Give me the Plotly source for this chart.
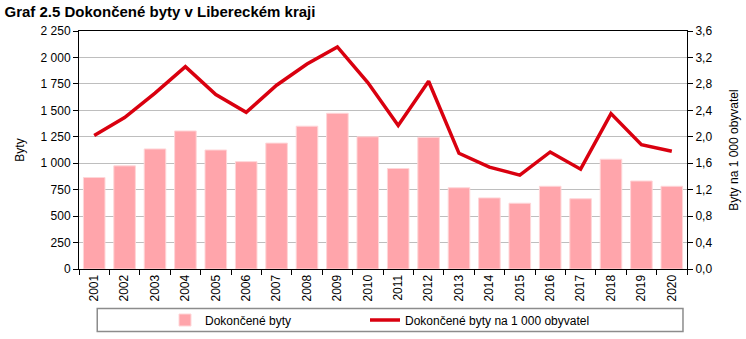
import plotly.graph_objects as go

years = [str(y) for y in range(2001, 2021)]
dokoncene_byty = [865, 975, 1135, 1305, 1125, 1015, 1190, 1350, 1472, 1250,
                  950, 1245, 768, 672, 622, 782, 664, 1038, 832, 782]
byty_na_1000 = [2.02, 2.29, 2.66, 3.06, 2.64, 2.37, 2.78, 3.10, 3.36, 2.82,
                2.17, 2.84, 1.75, 1.54, 1.42, 1.77, 1.51, 2.35, 1.88, 1.78]

left_tickvals = [0, 250, 500, 750, 1000, 1250, 1500, 1750, 2000, 2250]
left_ticktext = ["0", "250", "500", "750", "1 000", "1 250", "1 500", "1 750", "2 000", "2 250"]
right_tickvals = [0, 0.4, 0.8, 1.2, 1.6, 2.0, 2.4, 2.8, 3.2, 3.6]
right_ticktext = ["0,0", "0,4", "0,8", "1,2", "1,6", "2,0", "2,4", "2,8", "3,2", "3,6"]

FONT = "Liberation Sans, Arial, sans-serif"

fig = go.Figure()
fig.add_trace(go.Bar(
    x=years, y=dokoncene_byty, name="Dokončené byty",
    marker=dict(color="#FFA5AB", line=dict(color="#FFD6D8", width=1)),
    yaxis="y", legend="legend",
))
fig.add_trace(go.Scatter(
    x=years, y=byty_na_1000, name="Dokončené byty na 1 000 obyvatel",
    mode="lines", line=dict(color="#D9000F", width=3.5),
    yaxis="y2", legend="legend2",
))

legend_common = dict(orientation="h", xref="container", yref="container",
                     xanchor="left", y=1 - 320 / 339, yanchor="middle",
                     font=dict(size=12), bgcolor="rgba(0,0,0,0)")

fig.update_layout(
    width=746, height=339,
    margin=dict(l=79, r=59, t=31, b=70, autoexpand=False),
    paper_bgcolor="white", plot_bgcolor="white",
    font=dict(family=FONT, size=12, color="black"),
    bargap=0.29,
    showlegend=True,
    legend=dict(x=165 / 746, **legend_common),
    legend2=dict(x=365 / 746, **legend_common),
    title=dict(text="<b>Graf 2.5 Dokončené byty v Libereckém kraji</b>",
               x=0.006, xanchor="left", y=0.965, yanchor="middle",
               font=dict(size=15, family=FONT)),
    xaxis=dict(
        type="category", showline=True, linecolor="black", linewidth=1, mirror=True,
        ticks="outside", tickson="boundaries", ticklen=5, tickcolor="black",
        tickangle=-90, showgrid=False, tickfont=dict(size=12), automargin=False,
    ),
    yaxis=dict(
        range=[0, 2250], tickvals=left_tickvals, ticktext=left_ticktext,
        showline=True, linecolor="black", linewidth=1,
        ticks="outside", ticklen=5, tickcolor="black",
        showgrid=True, gridcolor="#BEBEBE", gridwidth=1, zeroline=False,
        automargin=False,
        title=dict(text="Byty", standoff=13, font=dict(size=12)),
    ),
    yaxis2=dict(
        range=[0, 3.6], tickvals=right_tickvals, ticktext=right_ticktext,
        overlaying="y", side="right",
        showline=True, linecolor="black", linewidth=1,
        ticks="outside", ticklen=5, tickcolor="black",
        showgrid=False, zeroline=False, automargin=False,
        title=dict(text="Byty na 1 000 obyvatel", standoff=18, font=dict(size=12)),
    ),
    shapes=[dict(type="rect", xref="paper", yref="paper",
                 x0=0.030, x1=0.9934, y0=-0.263, y1=-0.166,
                 line=dict(color="#8C8C8C", width=1.5), fillcolor="rgba(0,0,0,0)")],
)

fig.write_html("out.html")
